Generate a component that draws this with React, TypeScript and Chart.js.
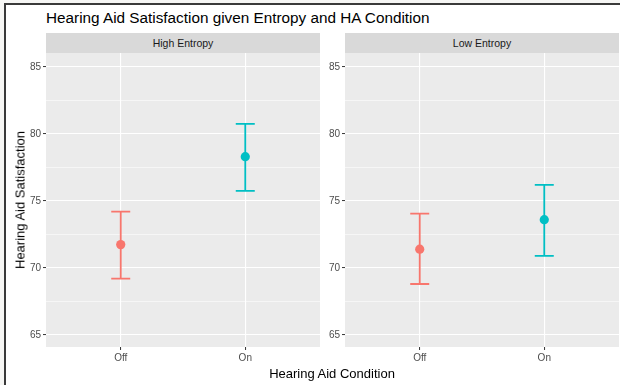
import React, { useEffect, useRef } from "react";
import { Chart, registerables } from "chart.js";

Chart.register(...registerables);

const conditions = ["Off", "On"];
const colors = ["#F8766D", "#00BFC4"];
const yTicks = [65, 67.5, 70, 72.5, 75, 77.5, 80, 82.5, 85];

const highMean = [71.74, 78.3];
const highLower = [69.2, 75.75];
const highUpper = [74.2, 80.75];

const lowMean = [71.4, 73.6];
const lowLower = [68.8, 70.9];
const lowUpper = [74.05, 76.2];

const FONT = "'Liberation Sans', Arial, sans-serif";

const bgPlugin = {
  id: "panelBg",
  beforeDraw(chart: any) {
    const { ctx, chartArea } = chart;
    ctx.save();
    ctx.fillStyle = "#EBEBEB";
    ctx.fillRect(chartArea.left, chartArea.top, chartArea.right - chartArea.left, chartArea.bottom - chartArea.top);
    ctx.restore();
  },
};

const errPlugin = {
  id: "errBars",
  beforeDatasetsDraw(chart: any) {
    const { ctx } = chart;
    const o = chart.options.plugins.errBars;
    const xs = chart.scales.x;
    const ys = chart.scales.y;
    ctx.save();
    ctx.lineWidth = 1.8;
    o.lower.forEach((lo: number, i: number) => {
      const x = xs.getPixelForValue(i + 1);
      const y1 = ys.getPixelForValue(lo);
      const y2 = ys.getPixelForValue(o.upper[i]);
      const hw = 9.5;
      ctx.strokeStyle = colors[i];
      ctx.beginPath();
      ctx.moveTo(x, y1);
      ctx.lineTo(x, y2);
      ctx.moveTo(x - hw, y1);
      ctx.lineTo(x + hw, y1);
      ctx.moveTo(x - hw, y2);
      ctx.lineTo(x + hw, y2);
      ctx.stroke();
    });
    ctx.restore();
  },
};

const zeroPad = (s: any) => {
  s.paddingTop = 0;
  s.paddingBottom = 0;
  s.paddingLeft = 0;
  s.paddingRight = 0;
};

function Panel({ mean, lower, upper, left }: { mean: number[]; lower: number[]; upper: number[]; left: number }) {
  const ref = useRef<HTMLCanvasElement>(null);
  useEffect(() => {
    const chart = new Chart(ref.current!, {
      type: "scatter",
      data: {
        datasets: [
          {
            data: mean.map((m, i) => ({ x: i + 1, y: m })),
            pointBackgroundColor: colors,
            pointBorderWidth: 0,
            pointRadius: 4.6,
            pointHoverRadius: 4.6,
          },
        ],
      },
      options: {
        animation: false,
        responsive: false,
        events: [],
        layout: { padding: 0, autoPadding: false },
        plugins: {
          legend: { display: false },
          tooltip: { enabled: false },
          errBars: { lower, upper },
        } as any,
        scales: {
          x: {
            type: "linear",
            min: 0.4,
            max: 2.6,
            afterBuildTicks: (s: any) => {
              s.ticks = conditions.map((_, i) => ({ value: i + 1 }));
            },
            afterFit: (s: any) => {
              s.height = 26;
              zeroPad(s);
            },
            ticks: {
              callback: (v: any) => conditions[Math.round(v) - 1] ?? "",
              color: "#4D4D4D",
              font: { family: FONT, size: 10 },
              padding: 2,
              maxRotation: 0,
              autoSkip: false,
            },
            grid: {
              color: "#FFFFFF",
              lineWidth: 1.1,
              tickColor: "#333333",
              tickLength: 3,
              tickWidth: 1,
            },
            border: { display: false },
          },
          y: {
            type: "linear",
            min: 64.1,
            max: 86.04,
            afterBuildTicks: (s: any) => {
              s.ticks = yTicks.map((v) => ({ value: v }));
            },
            afterFit: (s: any) => {
              s.width = 26;
              zeroPad(s);
            },
            ticks: {
              callback: (v: any) => (v % 5 === 0 ? String(v) : ""),
              color: "#4D4D4D",
              font: { family: FONT, size: 10 },
              padding: 2,
              autoSkip: false,
            },
            grid: {
              color: "#FFFFFF",
              lineWidth: (c: any) => (c.tick && c.tick.value % 5 === 0 ? 1.1 : 0.55),
              tickColor: (c: any) => (c.tick && c.tick.value % 5 === 0 ? "#333333" : "rgba(0,0,0,0)"),
              tickLength: 3,
              tickWidth: 1,
            },
            border: { display: false },
          },
        },
      },
      plugins: [bgPlugin, errPlugin],
    });
    return () => chart.destroy();
  }, []);
  return (
    <canvas
      ref={ref}
      width={300}
      height={320}
      style={{ position: "absolute", left, top: 53, width: 300, height: 320 }}
    />
  );
}

function Strip({ left, text }: { left: number; text: string }) {
  return (
    <div
      style={{
        position: "absolute",
        left,
        top: 33,
        width: 274,
        height: 20,
        background: "#D9D9D9",
        color: "#1A1A1A",
        fontFamily: FONT,
        fontSize: 10.5,
        lineHeight: "21px",
        textAlign: "center",
      }}
    >
      {text}
    </div>
  );
}

export default function App() {
  return (
    <div style={{ position: "fixed", left: 0, top: 0, width: 620, height: 385, background: "#F6F6F4", overflow: "hidden" }}>
      <div
        style={{
          position: "absolute",
          left: 4,
          top: 3,
          width: 616,
          height: 382,
          background: "#FFFFFF",
          borderLeft: "2px solid #3A3A3A",
          borderTop: "2px solid #3A3A3A",
          boxSizing: "border-box",
        }}
      />
      <div
        style={{
          position: "absolute",
          left: 46,
          top: 9,
          fontFamily: FONT,
          fontSize: 15.3,
          color: "#000",
          whiteSpace: "nowrap",
        }}
      >
        Hearing Aid Satisfaction given Entropy and HA Condition
      </div>
      <Strip left={46} text="High Entropy" />
      <Strip left={345} text="Low Entropy" />
      <Panel mean={highMean} lower={highLower} upper={highUpper} left={20} />
      <Panel mean={lowMean} lower={lowLower} upper={lowUpper} left={319} />
      <div
        style={{
          position: "absolute",
          left: 20,
          top: 200,
          transform: "translate(-50%, -50%) rotate(-90deg)",
          fontFamily: FONT,
          fontSize: 13,
          color: "#000",
          whiteSpace: "nowrap",
        }}
      >
        Hearing Aid Satisfaction
      </div>
      <div
        style={{
          position: "absolute",
          left: 332,
          top: 373,
          transform: "translate(-50%, -50%)",
          fontFamily: FONT,
          fontSize: 13,
          color: "#000",
          whiteSpace: "nowrap",
        }}
      >
        Hearing Aid Condition
      </div>
    </div>
  );
}
